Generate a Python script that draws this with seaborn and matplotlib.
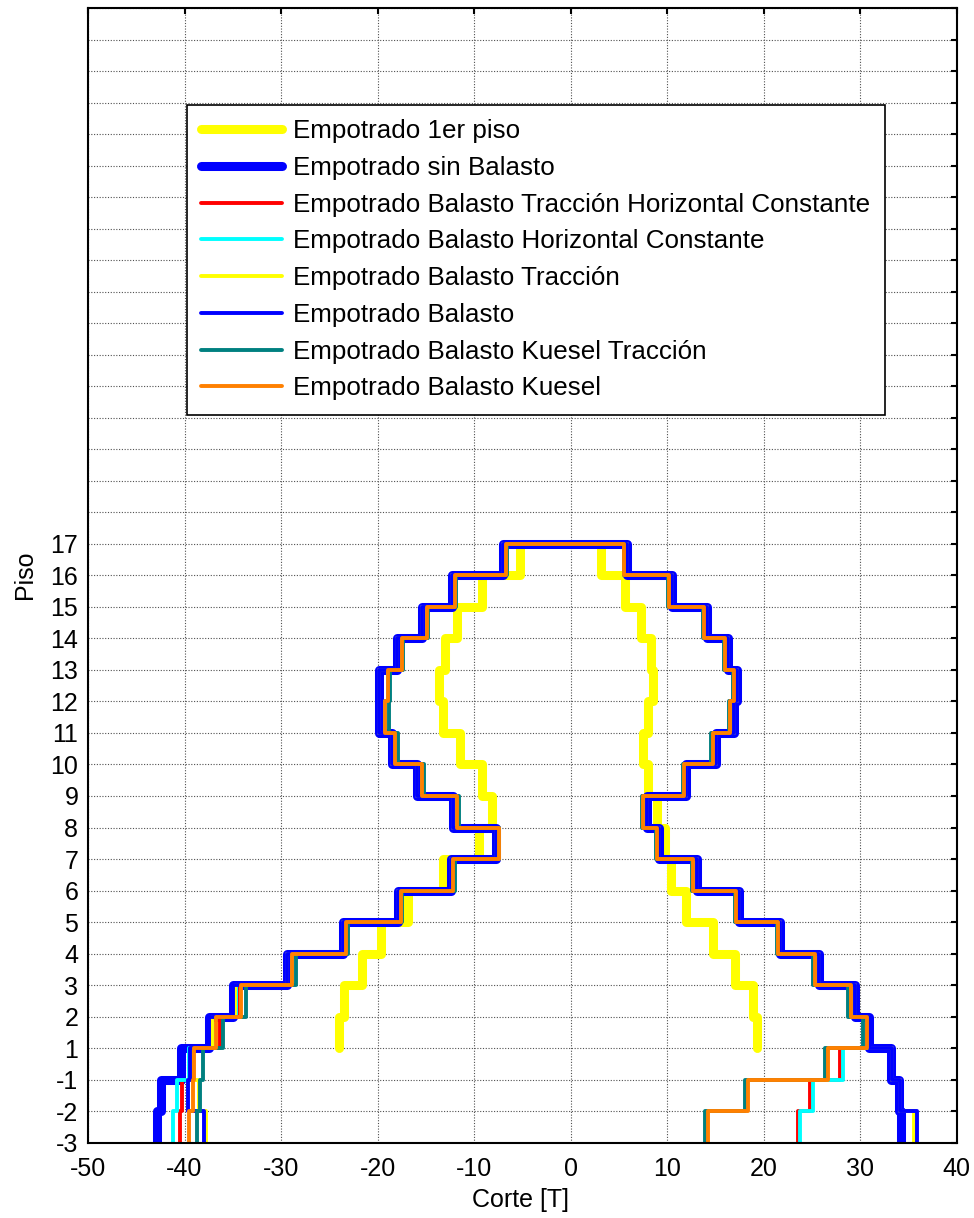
import numpy as np
import pandas as pd
import matplotlib
matplotlib.use("Agg")
import matplotlib.pyplot as plt
import seaborn as sns
from matplotlib.lines import Line2D

# ---------------- data ----------------
# floor labels of the level grid (bottom -> top)
piso_labels = ["-3", "-2", "-1", "1", "2", "3", "4", "5", "6", "7", "8",
               "9", "10", "11", "12", "13", "14", "15", "16", "17"]
n_extra_grid = 17          # unlabeled grid levels above floor 17
x_ticks = [-50, -40, -30, -20, -10, 0, 10, 20, 30, 40]

# shear per storey, bottom storey (-3..-2) to top storey (16..17)
sinbal_left = [-42.9, -42.4, -40.4, -37.5, -35.0, -29.4, -23.6, -17.9, -12.4, -7.7,
               -12.2, -15.9, -18.5, -19.8, -19.8, -18.0, -15.4, -12.3, -7.0]
sinbal_right = [34.2, 34.0, 33.2, 30.9, 29.5, 25.7, 21.7, 17.4, 13.1, 9.2,
                7.9, 12.0, 15.1, 16.9, 17.2, 16.3, 14.1, 10.5, 5.8]

tracc_hc_left = [-40.5, -40.3, -39.3, -36.3, -34.3, -28.9, -23.3, -17.6, -12.2, -7.4,
                 -11.8, -15.4, -18.2, -19.2, -18.9, -17.5, -14.9, -12.0, -6.7]
tracc_hc_right = [23.6, 24.8, 27.9, 30.8, 29.0, 25.3, 21.5, 17.1, 12.7, 8.9,
                  7.5, 11.7, 14.8, 16.5, 16.9, 16.0, 13.8, 10.2, 5.5]

hc_left = [-41.2, -40.8, -39.5, -37.2, -34.7, -28.9, -23.3, -17.6, -12.2, -7.4,
           -11.8, -15.4, -18.2, -19.2, -18.9, -17.5, -14.9, -12.0, -6.7]
hc_right = [23.8, 25.1, 28.2, 30.8, 29.0, 25.3, 21.5, 17.1, 12.7, 8.9,
            7.5, 11.7, 14.8, 16.5, 16.9, 16.0, 13.8, 10.2, 5.5]

tracc_left = [-37.8, -38.5, -39.3, -37.2, -34.8, -29.4, -23.6, -17.9, -12.4, -7.7,
              -12.2, -15.9, -18.5, -19.8, -19.8, -18.0, -15.4, -12.3, -7.0]
tracc_right = [35.6, 34.1, 33.3, 30.8, 29.5, 25.7, 21.7, 17.4, 13.1, 9.2,
               7.9, 12.0, 15.1, 16.9, 17.2, 16.3, 14.1, 10.5, 5.8]

balasto_left = [-38.0, -39.6, -39.4, -37.5, -35.0, -29.4, -23.6, -17.9, -12.4, -7.7,
                -12.2, -15.9, -18.5, -19.8, -19.8, -18.0, -15.4, -12.3, -7.0]
balasto_right = [35.9, 34.1, 33.3, 30.9, 29.5, 25.7, 21.7, 17.4, 13.1, 9.2,
                 7.9, 12.0, 15.1, 16.9, 17.2, 16.3, 14.1, 10.5, 5.8]

kt_left = [-38.7, -38.4, -38.1, -36.0, -33.6, -28.4, -23.1, -17.5, -12.0, -7.4,
           -11.6, -15.2, -17.9, -18.8, -18.7, -17.4, -14.8, -11.9, -6.6]
kt_right = [13.9, 18.1, 26.4, 30.3, 28.7, 25.1, 21.4, 17.0, 12.6, 8.8,
            7.4, 11.6, 14.5, 16.4, 16.8, 15.9, 13.7, 10.1, 5.5]

kuesel_left = [-39.5, -39.1, -39.0, -36.7, -34.2, -28.9, -23.3, -17.6, -12.2, -7.4,
               -11.8, -15.4, -18.2, -19.2, -18.9, -17.5, -14.9, -12.0, -6.7]
kuesel_right = [14.2, 18.4, 26.7, 30.7, 29.0, 25.3, 21.5, 17.1, 12.7, 8.9,
                7.5, 11.7, 14.8, 16.5, 16.9, 16.0, 13.8, 10.2, 5.5]

# "Empotrado 1er piso": storeys 1..2 up to 16..17
emp1_left = [-24.0, -23.5, -21.6, -19.6, -16.8, -13.2, -9.5, -8.1,
             -9.2, -11.5, -13.2, -13.6, -13.0, -11.8, -9.2, -5.2]
emp1_right = [19.3, 18.9, 17.0, 14.8, 12.0, 10.4, 9.8, 9.0,
              8.05, 7.5, 8.05, 8.5, 8.3, 7.3, 5.6, 3.2]
emp1_start_level = 3  # floor "1"

labels = ["Empotrado 1er piso",
          "Empotrado sin Balasto",
          "Empotrado Balasto Tracción Horizontal Constante",
          "Empotrado Balasto Horizontal Constante",
          "Empotrado Balasto Tracción",
          "Empotrado Balasto",
          "Empotrado Balasto Kuesel Tracción",
          "Empotrado Balasto Kuesel"]
colors = ["#FFFF00", "#0000FF", "#FF0000", "#00FFFF",
          "#FFFF00", "#0000FF", "#008080", "#FF8000"]
widths = [6.5, 6.5, 2.8, 2.8, 2.8, 2.8, 2.8, 2.8]


# ---------------- helpers ----------------
def stair_side(values, start):
    xs, ys = [], []
    for i, v in enumerate(values):
        xs += [v, v]
        ys += [start + i, start + i + 1]
    return xs, ys


def closed_stair(left, right):
    xl, yl = stair_side(left, 0)
    xr, yr = stair_side(right, 0)
    return pd.DataFrame({"x": xl + xr[::-1], "y": yl + yr[::-1]})


# ---------------- figure ----------------
sns.set_style("white")
plt.rcParams["font.family"] = ["Liberation Sans", "DejaVu Sans"]
plt.rcParams["text.color"] = "black"
plt.rcParams["axes.labelcolor"] = "black"
plt.rcParams["xtick.color"] = "black"
plt.rcParams["ytick.color"] = "black"

W, H = 974, 1218
fig = plt.figure(figsize=(W / 100, H / 100), dpi=100)
ax = fig.add_axes([88 / W, 75.3 / H, 868.7 / W, 1134.7 / H])

line_kw = dict(sort=False, estimator=None, legend=False, ax=ax,
               solid_joinstyle="round", solid_capstyle="round")

# 1) Empotrado 1er piso (two separate branches)
for side in (emp1_left, emp1_right):
    xs, ys = stair_side(side, emp1_start_level)
    sns.lineplot(x=xs, y=ys, color=colors[0], linewidth=widths[0], **line_kw)

series = [(sinbal_left, sinbal_right), (tracc_hc_left, tracc_hc_right),
          (hc_left, hc_right), (tracc_left, tracc_right),
          (balasto_left, balasto_right), (kt_left, kt_right),
          (kuesel_left, kuesel_right)]
for (lft, rgt), c, w in zip(series, colors[1:], widths[1:]):
    df = closed_stair(lft, rgt)
    sns.lineplot(data=df, x="x", y="y", color=c, linewidth=w, **line_kw)

n_levels = len(piso_labels) + n_extra_grid
ax.set_xlim(x_ticks[0], x_ticks[-1])
ax.set_ylim(0, n_levels - 1)
ax.set_xticks(x_ticks)
ax.set_xticklabels([str(t) for t in x_ticks])
ax.set_yticks(range(n_levels))
ax.set_yticklabels(piso_labels + [""] * n_extra_grid)

ax.grid(True, linestyle=(0, (1, 1.5)), color="#505050", linewidth=0.8)
ax.tick_params(direction="in", length=4, width=1.5, top=True, right=True,
               labelsize=18, colors="black")
ax.tick_params(axis="x", pad=10)
ax.tick_params(axis="y", pad=7)
for sp in ax.spines.values():
    sp.set_visible(True)
    sp.set_color("black")
    sp.set_linewidth(1.5)

ax.set_xlabel("")
ax.set_ylabel("")
fig.text(521 / W, 1 - 1200 / H, "Corte [T]", ha="center", va="center",
         fontsize=18, color="black")
fig.text(25 / W, 1 - 575 / H, "Piso", ha="center", va="center", rotation=90,
         fontsize=18, color="black")

handles = [Line2D([], [], color=c, linewidth=w) for c, w in zip(colors, widths)]
leg = ax.legend(handles, labels, loc="upper left",
                bbox_to_anchor=(187 / W, 1 - 105 / H), bbox_transform=fig.transFigure,
                frameon=True, fancybox=False, edgecolor="black", framealpha=1,
                fontsize=18.7, handlelength=3.1, handletextpad=0.45,
                labelspacing=0.49, borderpad=0.55, borderaxespad=0)
leg.get_frame().set_linewidth(1.2)
for t in leg.get_texts():
    t.set_color("black")

fig.savefig("out.png", dpi=100, facecolor="white")
